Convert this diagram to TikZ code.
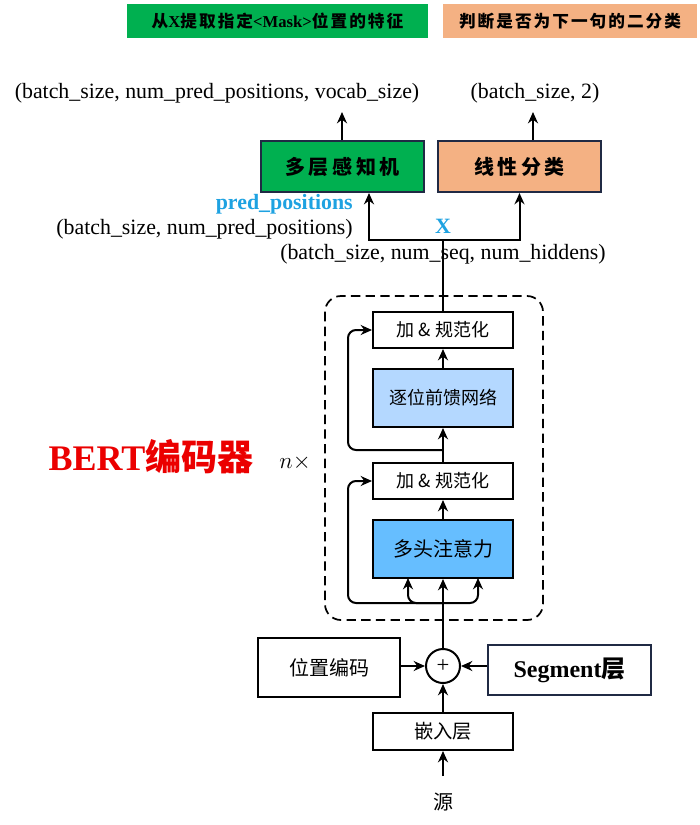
\documentclass[tikz,border=0pt]{standalone}
\usepackage{fontspec}
\setmainfont{Liberation Serif}
\newfontfamily\cjk{Noto Sans CJK SC}
\newfontfamily\cjksp[LetterSpace=18]{Noto Sans CJK SC}
\newfontfamily\cjkban[LetterSpace=12]{Noto Sans CJK SC}
\usetikzlibrary{arrows.meta,calc}
\definecolor{bgreen}{RGB}{0,176,80}
\definecolor{borange}{RGB}{244,177,131}
\definecolor{bnavy}{RGB}{32,42,68}
\definecolor{bblue}{RGB}{30,162,225}
\definecolor{ffnblue}{RGB}{180,216,255}
\definecolor{mhablue}{RGB}{102,190,255}
\definecolor{bred}{RGB}{235,0,0}
\begin{document}
\begin{tikzpicture}[x=0.75pt,y=-0.75pt,
  arr/.style={line width=1.5pt,-{Stealth[length=8.5pt,width=7.5pt]}},
  ln/.style={line width=1.5pt},
  box/.style={draw,line width=1.5pt,inner sep=0pt,align=center},
  topbox/.style={box,draw=bnavy,minimum width=122.25pt,minimum height=38.25pt,font=\cjksp\bfseries\fontsize{15}{18}\selectfont},
  encbox/.style={box,minimum width=105pt,font=\cjk\fontsize{13.5}{16}\selectfont},
  banner/.style={inner sep=0pt,minimum height=25.5pt,font=\cjkban\bfseries\fontsize{12.5}{15}\selectfont},
  dimtext/.style={font=\fontsize{16.4}{19}\selectfont,inner sep=0pt}]
\useasboundingbox (0,0) rectangle (700,825);

% banners
\node[banner,fill=bgreen,minimum width=225.75pt] (bang) at (277.5,21) {从{\rmfamily\bfseries X}提取指定{\rmfamily\bfseries<Mask>}位置的特征};
\node[banner,fill=borange,minimum width=190.5pt] (bano) at (570,21) {判断是否为下一句的二分类};

% output shapes
\node[dimtext] (out1) at (217,93) {(batch\_size, num\_pred\_positions, vocab\_size)};
\node[dimtext] (out2) at (535,93) {(batch\_size, 2)};
\coordinate (o1) at (342,112);
\coordinate (o2) at (533,112);

% heads
\node[topbox,fill=bgreen] (mlp) at (342.5,166.5) {多层感知机};
\node[topbox,fill=borange] (lin) at (519.5,166.5) {线性分类};
\draw[arr] (mlp.north -| o1) -- (o1);
\draw[arr] (lin.north -| o2) -- (o2);

% labels
\node[dimtext,anchor=east,text=bblue,font=\bfseries\fontsize{16.4}{19}\selectfont] (pp) at (353,204) {pred\_positions};
\node[dimtext,anchor=east] (ppshape) at (353,229) {(batch\_size, num\_pred\_positions)};
\node[dimtext,text=bblue,font=\bfseries\fontsize{16.4}{19}\selectfont] (xl) at (443,226) {X};
\node[dimtext] (xshape) at (443,254) {(batch\_size, num\_seq, num\_hiddens)};

% encoder
\draw[line width=1.3pt,dash pattern=on 7pt off 4pt,rounded corners=12pt] (325,296) rectangle (543,620);
\node[encbox,minimum height=27pt] (an2) at (443,330) {加 \& 规范化};
\node[encbox,minimum height=43.5pt,fill=ffnblue] (ffn) at (443,398) {逐位前馈网络};
\node[encbox,minimum height=27pt] (an1) at (443,481) {加 \& 规范化};
\node[encbox,minimum height=43.5pt,fill=mhablue,font=\cjk\fontsize{15}{17}\selectfont] (mha) at (443,549) {多头注意力};

\node[text=bred,inner sep=0pt,font=\fontsize{27}{30}\selectfont] (bert) at (151,457) {\bfseries BERT{\cjk 编码器}};
\node[inner sep=0pt,font=\fontsize{16}{18}\selectfont] (nx) at (295,463) {$n\times$};

% bottom
\node[draw,circle,line width=1.5pt,minimum size=25.5pt,inner sep=0pt] (plus) at (443,666) {\fontsize{17}{19}\selectfont +};
\node[box,minimum width=106.5pt,minimum height=44.25pt,font=\cjk\fontsize{15}{17}\selectfont] (pos) at (329,667.5) {位置编码};
\node[box,draw=bnavy,minimum width=122.25pt,minimum height=37.5pt,font=\fontsize{18}{21}\selectfont] (seg) at (569.5,670) {\bfseries Segment{\cjk 层}};
\node[box,minimum width=105pt,minimum height=27.75pt,font=\cjk\fontsize{14.5}{17}\selectfont] (emb) at (443,731.5) {嵌入层};
\node[inner sep=0pt,font=\cjk\fontsize{15}{17}\selectfont] (src) at (443,802) {源};

\coordinate (s0) at (443,776);
\draw[arr] (s0) -- (emb.south);
\draw[arr] (emb.north) -- (plus.south);
\draw[arr] (pos.east |- plus) -- (plus.west);
\draw[arr] (seg.west |- plus) -- (plus.east);
\draw[arr] (plus.north) -- (mha.south);

\coordinate (b1) at (443,603);
\coordinate (b2) at (443,450);
\draw[arr,rounded corners=6pt] (b1) -- (348,603) -- (348,481) -- (an1.west);
\draw[arr,rounded corners=6pt] (b1) -| (408,578);
\draw[arr,rounded corners=6pt] (b1) -| (478,578);
\draw[arr] (mha.north) -- (an1.south);
\draw[arr] (an1.north) -- (ffn.south);
\draw[arr,rounded corners=6pt] (b2) -- (348,450) -- (348,330) -- (an2.west);
\draw[arr] (ffn.north) -- (an2.south);

\coordinate (xj) at (443,240);
\draw[ln] (an2.north) -- (xj);
\draw[arr] (xj) -| ($(mlp.south)+(26.5,0)$);
\draw[arr] (xj) -| (lin.south);
\end{tikzpicture}
\end{document}
